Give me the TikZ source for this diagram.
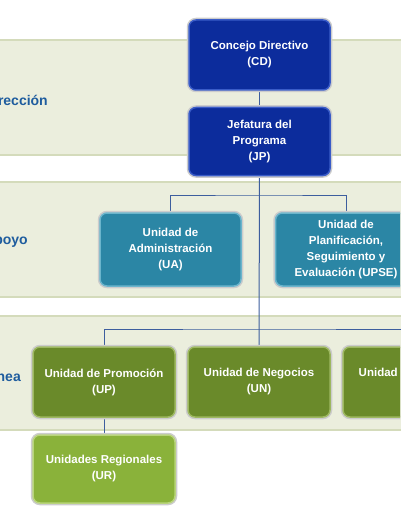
\documentclass[tikz,border=0pt]{standalone}
\usepackage{fontspec}
\setmainfont{Liberation Sans}
\definecolor{bandfill}{HTML}{EBEEDD}
\definecolor{bandline}{HTML}{D4DBBB}
\definecolor{lbl}{HTML}{1E5C9E}
\definecolor{conn}{HTML}{3D5E9E}
\definecolor{bluefill}{HTML}{0C2C9C}
\definecolor{blueline}{HTML}{3A5CC8}
\definecolor{tealfill}{HTML}{2B86A5}
\definecolor{tealline}{HTML}{6BB5CC}
\definecolor{olivefill}{HTML}{6A8A2A}
\definecolor{oliveline}{HTML}{9DB860}
\definecolor{lgfill}{HTML}{8AB23A}
\definecolor{lgline}{HTML}{B8D47A}
\pgfdeclarelayer{bg}
\pgfsetlayers{bg,main}
\tikzset{
  band/.style={fill=bandfill, draw=bandline, line width=1.2pt},
  bandlabel/.style={anchor=east, text=lbl, font=\fontsize{14}{16}\selectfont\bfseries, inner sep=0pt},
  unit/.style={rounded corners=7pt, text=white, align=center,
    font=\fontsize{11.5}{16}\selectfont\bfseries, inner sep=0pt,
    preaction={draw=black!20, line width=4.5pt}, line width=1.5pt},
  bluebox/.style={unit, fill=bluefill, draw=blueline, minimum width=141pt},
  tealbox/.style={unit, fill=tealfill, draw=tealline, minimum width=141pt, minimum height=73pt},
  olivebox/.style={unit, fill=olivefill, draw=oliveline, minimum width=142pt, minimum height=70pt},
  lgbox/.style={unit, fill=lgfill, draw=lgline, minimum width=142pt, minimum height=68pt},
  link/.style={draw=conn, line width=1pt}
}
\begin{document}
\begin{tikzpicture}[x=1pt,y=-1pt]
\useasboundingbox (0,0) rectangle (400,516);
\clip (0,0) rectangle (400,516);
\begin{pgfonlayer}{bg}
\fill[white] (0,0) rectangle (400,516);
\draw[band] (-5,40) rectangle (405,155);
\draw[band] (-5,182) rectangle (405,297);
\draw[band] (-5,316) rectangle (405,430);
\end{pgfonlayer}
\node[bandlabel] (lbD) at (48,100) {Dirección};
\node[bandlabel] (lbA) at (28,241) {Apoyo};
\node[bandlabel] (lbL) at (21,376) {Línea};
% nodes
\node[bluebox, minimum height=70pt] (CD) at (259.5,55) {Concejo Directivo\\(CD)};
\node[bluebox, minimum height=68pt] (JP) at (259.5,141.5) {Jefatura del\\Programa\\(JP)};
\node[tealbox] (UA) at (170.5,249.5) {Unidad de\\Administración\\(UA)};
\node[tealbox] (UPSE) at (346,249.5) {Unidad de\\Planificación,\\Seguimiento y\\Evaluación (UPSE)};
\node[olivebox] (UP) at (104,382) {Unidad de Promoción\\(UP)};
\node[olivebox] (UN) at (259,382) {Unidad de Negocios\\(UN)};
\node[olivebox] (UX) at (414,382) {Unidad de\phantom{ Negocios}\\\phantom{(UN)}};
\node[lgbox] (UR) at (104,469) {Unidades Regionales\\(UR)};
% connectors
\coordinate (busA) at (259.5,195);
\coordinate (busL) at (259.5,329);
\begin{pgfonlayer}{bg}
\draw[link] (CD.south) -- (JP.north);
\draw[link] (JP.south) -- (UN.north);
\draw[link] (UA.north) |- (busA) -| (UPSE.north);
\draw[link] (UP.north) |- (busL) -| (UX.north);
\draw[link] (UP.south) -- (UR.north);
\end{pgfonlayer}
\end{tikzpicture}
\end{document}
